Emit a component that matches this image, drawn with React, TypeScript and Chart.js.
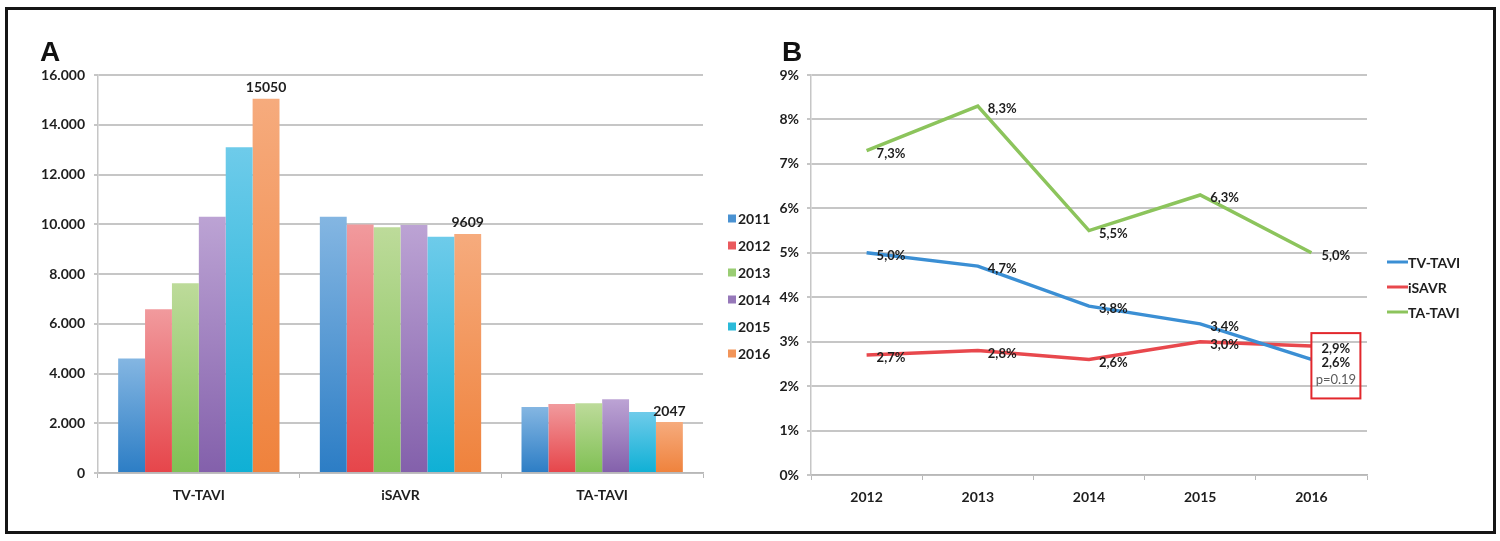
import { useEffect, useRef } from 'react';
import { Chart, registerables } from 'chart.js';

Chart.register(...registerables);

// Panel A: procedures per year
const procedures = ['TV-TAVI', 'iSAVR', 'TA-TAVI'];
const barYears = ['2011', '2012', '2013', '2014', '2015', '2016'];
const cases2011 = [4600, 10300, 2650];
const cases2012 = [6580, 9990, 2770];
const cases2013 = [7630, 9880, 2800];
const cases2014 = [10300, 9970, 2960];
const cases2015 = [13100, 9500, 2450];
const cases2016 = [15050, 9609, 2047];
const caseTickLabels = ['0', '2.000', '4.000', '6.000', '8.000', '10.000', '12.000', '14.000', '16.000'];

// Panel B: in-hospital mortality
const lineYears = ['2012', '2013', '2014', '2015', '2016'];
const tvTaviRate = [5.0, 4.7, 3.8, 3.4, 2.6];
const isavrRate = [2.7, 2.8, 2.6, 3.0, 2.9];
const taTaviRate = [7.3, 8.3, 5.5, 6.3, 5.0];
const rateTickLabels = ['0%', '1%', '2%', '3%', '4%', '5%', '6%', '7%', '8%', '9%'];
const pValueText = 'p=0.19';

const caseSeries = [cases2011, cases2012, cases2013, cases2014, cases2015, cases2016];
// [bottom, top, legend] colours for the gradient bars
const barColors = [
  ['#2c7dc5', '#84b6e2', '#4a92d2'],
  ['#e6454a', '#f19a9d', '#ea5a5e'],
  ['#80c054', '#bddb9a', '#9acd74'],
  ['#8360ab', '#bca3d4', '#9678b9'],
  ['#0fb0d5', '#6ecbea', '#2bbad9'],
  ['#ef823c', '#f6ab7d', '#f2955a'],
];
const lineColors = ['#3b8fd4', '#e8484d', '#8cc45c'];

const FONT = 'Lato, "Open Sans", sans-serif';
const INK = '#1e1e1e';

const barLabels = {
  id: 'barLabels',
  afterDatasetsDraw(chart: any) {
    const { ctx } = chart;
    const last = chart.data.datasets.length - 1;
    const meta = chart.getDatasetMeta(last);
    ctx.save();
    ctx.font = `bold 14px ${FONT}`;
    ctx.fillStyle = INK;
    ctx.textAlign = 'center';
    ctx.textBaseline = 'bottom';
    meta.data.forEach((bar: any, i: number) => {
      ctx.fillText(String(chart.data.datasets[last].data[i]), bar.x, bar.y - 4);
    });
    ctx.restore();
  },
};

const barLegend = {
  id: 'barLegend',
  afterDraw(chart: any) {
    const { ctx, chartArea } = chart;
    const n = chart.data.datasets.length;
    const step = 27;
    const y0 = (chartArea.top + chartArea.bottom) / 2 + 12 - ((n - 1) / 2) * step;
    ctx.save();
    ctx.font = `bold 14px ${FONT}`;
    ctx.textBaseline = 'middle';
    ctx.textAlign = 'left';
    chart.data.datasets.forEach((ds: any, i: number) => {
      const y = y0 + i * step;
      ctx.fillStyle = barColors[i][2];
      ctx.fillRect(chartArea.right + 25, y - 4, 8, 8);
      ctx.fillStyle = INK;
      ctx.fillText(ds.label, chartArea.right + 35, y + 1);
    });
    ctx.restore();
  },
};

const pointLabels = {
  id: 'pointLabels',
  afterDatasetsDraw(chart: any) {
    const { ctx } = chart;
    ctx.save();
    ctx.font = `bold 13px ${FONT}`;
    ctx.fillStyle = INK;
    ctx.textAlign = 'left';
    ctx.textBaseline = 'middle';
    chart.data.datasets.forEach((ds: any, d: number) => {
      chart.getDatasetMeta(d).data.forEach((pt: any, i: number) => {
        const txt = ds.data[i].toFixed(1).replace('.', ',') + '%';
        ctx.fillText(txt, pt.x + 10, pt.y + 3);
      });
    });
    ctx.restore();
  },
};

const pBox = {
  id: 'pBox',
  afterDatasetsDraw(chart: any) {
    const { ctx } = chart;
    const tv = chart.getDatasetMeta(0).data;
    const sa = chart.getDatasetMeta(1).data;
    const i = tv.length - 1;
    const x = tv[i].x;
    const top = Math.min(tv[i].y, sa[i].y) - 13;
    const bottom = Math.max(tv[i].y, sa[i].y) + 39;
    ctx.save();
    ctx.strokeStyle = '#e2272c';
    ctx.lineWidth = 2;
    ctx.strokeRect(x, top, 49, bottom - top);
    ctx.font = `13px ${FONT}`;
    ctx.fillStyle = '#5c5c5c';
    ctx.textAlign = 'center';
    ctx.textBaseline = 'middle';
    ctx.fillText(pValueText, x + 24.5, bottom - 19);
    ctx.restore();
  },
};

const lineLegend = {
  id: 'lineLegend',
  afterDraw(chart: any) {
    const { ctx, chartArea } = chart;
    const n = chart.data.datasets.length;
    const step = 25;
    const y0 = (chartArea.top + chartArea.bottom) / 2 + 12 - ((n - 1) / 2) * step;
    ctx.save();
    ctx.font = `bold 14px ${FONT}`;
    ctx.textBaseline = 'middle';
    ctx.textAlign = 'left';
    chart.data.datasets.forEach((ds: any, i: number) => {
      const y = y0 + i * step;
      ctx.strokeStyle = ds.borderColor;
      ctx.lineWidth = 3;
      ctx.beginPath();
      ctx.moveTo(chartArea.right + 20, y);
      ctx.lineTo(chartArea.right + 41, y);
      ctx.stroke();
      ctx.fillStyle = INK;
      ctx.fillText(ds.label, chartArea.right + 41, y + 1);
    });
    ctx.restore();
  },
};

function barGradient(k: number) {
  return (c: any) => {
    const chart = c.chart;
    if (!chart.chartArea || c.parsed == null) return barColors[k][2];
    const ys = chart.scales.y;
    const y0 = ys.getPixelForValue(0);
    const y1 = ys.getPixelForValue(c.parsed.y);
    const g = chart.ctx.createLinearGradient(0, y0, 0, y1);
    g.addColorStop(0, barColors[k][0]);
    g.addColorStop(1, barColors[k][1]);
    return g;
  };
}

function tickFont() {
  return { family: FONT, size: 14, weight: 700 };
}

function BarPanel() {
  const canvasRef = useRef<HTMLCanvasElement>(null);
  useEffect(() => {
    if (!canvasRef.current) return;
    const chart = new Chart(canvasRef.current, {
      type: 'bar',
      data: {
        labels: procedures,
        datasets: barYears.map((year, k) => ({
          label: year,
          data: caseSeries[k],
          backgroundColor: barGradient(k),
          borderWidth: 0,
          categoryPercentage: 0.8,
          barPercentage: 1.0,
        })),
      },
      options: {
        responsive: true,
        maintainAspectRatio: false,
        animation: false,
        layout: { padding: { top: 55, right: 87, left: 0, bottom: 0 } },
        plugins: { legend: { display: false }, tooltip: { enabled: false } },
        scales: {
          x: {
            grid: { drawOnChartArea: false, tickLength: 5, color: '#b8b8b8', offset: true },
            border: { color: '#b8b8b8', width: 1.5 },
            ticks: { font: tickFont(), color: INK, padding: 9 },
            afterFit: (s: any) => { s.height = 57; },
          },
          y: {
            min: 0,
            max: 16000,
            ticks: {
              stepSize: 2000,
              font: tickFont(),
              color: INK,
              padding: 9,
              callback: (_v: any, i: number) => caseTickLabels[i],
            },
            grid: { color: '#c6c6c6', lineWidth: 2, tickLength: 4 },
            border: { color: '#c6c6c6', width: 1.5 },
            afterFit: (s: any) => { s.width = 88; },
          },
        },
      },
      plugins: [barLabels, barLegend],
    });
    return () => chart.destroy();
  }, []);
  return (
    <div style={{ position: 'absolute', left: 10, top: 20, width: 780, height: 510 }}>
      <canvas ref={canvasRef}></canvas>
    </div>
  );
}

function LinePanel() {
  const canvasRef = useRef<HTMLCanvasElement>(null);
  useEffect(() => {
    if (!canvasRef.current) return;
    const series = [
      ['TV-TAVI', tvTaviRate],
      ['iSAVR', isavrRate],
      ['TA-TAVI', taTaviRate],
    ] as const;
    const chart = new Chart(canvasRef.current, {
      type: 'line',
      data: {
        labels: lineYears,
        datasets: series.map(([label, data], k) => ({
          label,
          data: [...data],
          borderColor: lineColors[k],
          borderWidth: 3.5,
          pointRadius: 0,
          tension: 0,
          fill: false,
        })),
      },
      options: {
        responsive: true,
        maintainAspectRatio: false,
        animation: false,
        layout: { padding: { top: 55, right: 123, left: 0, bottom: 0 } },
        plugins: { legend: { display: false }, tooltip: { enabled: false } },
        scales: {
          x: {
            offset: true,
            grid: { drawOnChartArea: false, tickLength: 5, color: '#b8b8b8', offset: true },
            border: { color: '#b8b8b8', width: 1.5 },
            ticks: { font: tickFont(), color: INK, padding: 9 },
            afterFit: (s: any) => { s.height = 55; },
          },
          y: {
            min: 0,
            max: 9,
            ticks: {
              stepSize: 1,
              font: tickFont(),
              color: INK,
              padding: 8,
              callback: (_v: any, i: number) => rateTickLabels[i],
            },
            grid: { color: '#c6c6c6', lineWidth: 2, tickLength: 4 },
            border: { color: '#c6c6c6', width: 1.5 },
            afterFit: (s: any) => { s.width = 71; },
          },
        },
      },
      plugins: [pointLabels, pBox, lineLegend],
    });
    return () => chart.destroy();
  }, []);
  return (
    <div style={{ position: 'absolute', left: 740, top: 20, width: 750, height: 510 }}>
      <canvas ref={canvasRef}></canvas>
    </div>
  );
}

const panelLetter: React.CSSProperties = {
  position: 'absolute',
  top: 38,
  font: 'bold 28px "Liberation Sans", Arial, sans-serif',
  lineHeight: '28px',
  color: '#111',
};

export default function App() {
  return (
    <div style={{ position: 'absolute', left: 0, top: 0, width: 1500, height: 541, background: '#fff', overflow: 'hidden' }}>
      <div
        style={{
          position: 'absolute',
          left: 5,
          top: 7,
          width: 1491,
          height: 527,
          border: '3px solid #151515',
          boxSizing: 'border-box',
        }}
      />
      <BarPanel />
      <LinePanel />
      <div style={{ ...panelLetter, left: 40 }}>A</div>
      <div style={{ ...panelLetter, left: 782 }}>B</div>
    </div>
  );
}
